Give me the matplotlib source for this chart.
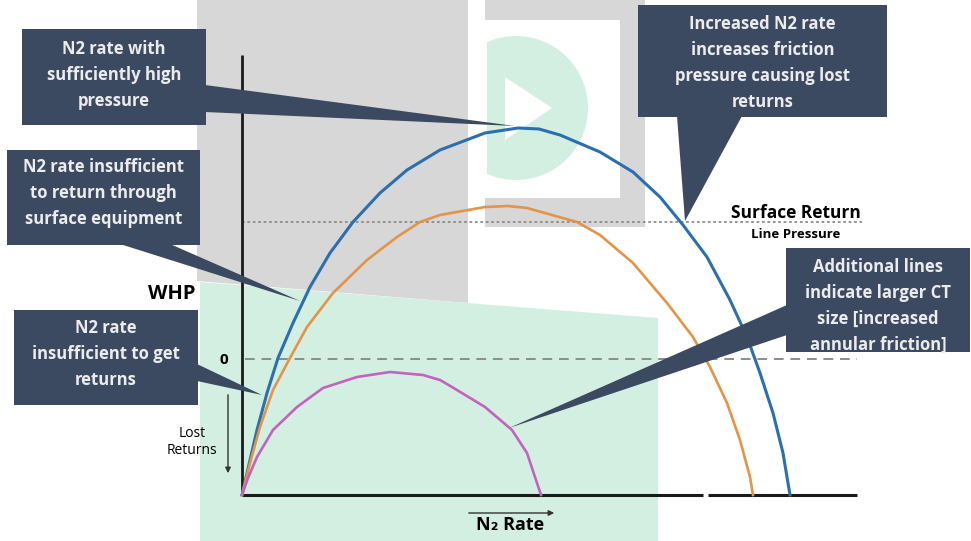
import matplotlib.pyplot as plt
from matplotlib.patches import Polygon, Rectangle, Circle

plt.rcParams["font.family"] = ["Open Sans", "DejaVu Sans"]

# curves: N2 rate vs WHP (same units, origin at axis corner)
blue_rate = [0, 8, 15, 25, 36, 51, 68, 88, 111, 138, 165, 198, 243, 276, 297, 318, 358, 391, 418, 441, 465, 488, 505, 518, 531, 541, 548]
blue_whp = [0, 35, 65, 102, 137, 172, 208, 242, 273, 302, 325, 345, 362, 367, 366, 360, 343, 323, 298, 270, 238, 195, 158, 122, 82, 42, 0]
orange_rate = [0, 8, 18, 31, 48, 65, 91, 125, 155, 178, 198, 243, 266, 285, 335, 358, 391, 425, 451, 468, 485, 498, 508, 511]
orange_whp = [0, 32, 68, 105, 137, 168, 202, 235, 258, 273, 280, 288, 289, 287, 273, 260, 232, 192, 158, 128, 92, 55, 18, 0]
magenta_rate = [0, 6, 15, 31, 55, 81, 115, 148, 181, 198, 210, 243, 270, 285, 299]
magenta_whp = [0, 17, 38, 65, 88, 107, 118, 123, 120, 115, 108, 88, 65, 42, 0]

zero_whp = 136
surface_whp = 273
axis_top = 440
axis_end = 615

callouts = [
    "N2 rate with\nsufficiently high\npressure",
    "N2 rate insufficient\nto return through\nsurface equipment",
    "N2 rate\ninsufficient to get\nreturns",
    "Increased N2 rate\nincreases friction\npressure causing lost\nreturns",
    "Additional lines\nindicate larger CT\nsize [increased\nannular friction]",
]

# origin of the chart in picture pixels
X0, Y0 = 242, 495


def p(x, y):
    # picture pixel -> chart units
    return (x - X0, Y0 - y)


fig = plt.figure(figsize=(9.71, 5.41), dpi=100)
ax = fig.add_axes([0, 0, 1, 1])
ax.set_xlim(-X0, 971 - X0)
ax.set_ylim(Y0 - 541, Y0)
ax.axis("off")

# background panels (watermark colours)
ax.add_patch(Polygon([p(197, 0), p(468, 0), p(468, 303), p(197, 281)], closed=True,
                     facecolor="#d7d7d7", edgecolor="none", zorder=0))
ax.add_patch(Polygon([p(200, 282), p(658, 318), p(658, 541), p(200, 541)], closed=True,
                     facecolor="#d3efe2", edgecolor="none", zorder=0))
ax.add_patch(Rectangle(p(485, 227), 160, 227, facecolor="#d7d7d7", edgecolor="none", zorder=0))
ax.add_patch(Rectangle(p(485, 198), 135, 178, facecolor="white", edgecolor="none", zorder=0.1))
circ = Circle(p(516, 108), 72, facecolor="#d3efe2", edgecolor="none", zorder=0.2)
ax.add_patch(circ)
clip = Rectangle(p(487, 198), 133, 178, transform=ax.transData)
circ.set_clip_path(clip)
ax.add_patch(Polygon([p(505, 77), p(552, 108), p(505, 140)], closed=True,
                     facecolor="white", edgecolor="none", zorder=0.3))

# reference lines
ax.plot([3, axis_end], [zero_whp, zero_whp], color="#8c8c8c", lw=1.4, ls=(0, (5, 3.5)), zorder=1)
ax.plot([0, 620], [surface_whp, surface_whp], color="#8c8c8c", lw=1.3, ls=(0, (1.5, 1.5)), zorder=1)

# axes
ax.plot([0, 0], [0, axis_top], color="#1a1a1a", lw=2, zorder=2, solid_capstyle="butt")
ax.plot([0, 461], [0, 0], color="#1a1a1a", lw=2.2, zorder=2, solid_capstyle="butt")
ax.plot([466, axis_end], [0, 0], color="#1a1a1a", lw=2.2, zorder=2, solid_capstyle="butt")

# curves
ax.plot(blue_rate, blue_whp, color="#2b6fae", lw=2.2, zorder=3, solid_joinstyle="round")
ax.plot(orange_rate, orange_whp, color="#e39447", lw=1.9, zorder=3, solid_joinstyle="round")
ax.plot(magenta_rate, magenta_whp, color="#c363bd", lw=1.9, zorder=3, solid_joinstyle="round")

# callout boxes: (left, top, right, bottom), text centre y, pointer wedge in pixels
box_col = "#3c4a61"
boxes = [(22, 29, 206, 125), (7, 150, 200, 245), (14, 310, 198, 405),
         (638, 5, 887, 117), (786, 248, 970, 352)]
text_y = [75, 193, 354, 63, 306]
wedges = [[(205, 85), (205, 112), (515, 126)],
          [(120, 244), (170, 244), (300, 301)],
          [(197, 364), (197, 381), (262, 395)],
          [(677, 116), (742, 116), (685, 221)],
          [(787, 305), (787, 335), (509, 428)]]
for (l, t, r, b), ty, w, txt in zip(boxes, text_y, wedges, callouts):
    ax.add_patch(Rectangle(p(l, b), r - l, b - t, facecolor=box_col, edgecolor="none", zorder=4))
    ax.add_patch(Polygon([p(*q) for q in w], closed=True, facecolor=box_col, edgecolor="none", zorder=4))
    cx, cy = p((l + r) / 2, ty)
    ax.text(cx, cy, txt, ha="center", va="center", color="#ececec", fontsize=12,
            fontweight="bold", linespacing=1.55, zorder=5)

# axis labels
ax.text(*p(172, 294), "WHP", ha="center", va="center", fontsize=14.5, fontweight="bold", zorder=5)
ax.text(*p(224, 360), "0", ha="center", va="center", fontsize=11, fontweight="bold", zorder=5)
ax.text(*p(192, 442), "Lost\nReturns", ha="center", va="center", fontsize=10, zorder=5,
        linespacing=1.25)
ax.annotate("", xy=p(228, 476), xytext=p(228, 392),
            arrowprops=dict(arrowstyle="-|>", color="#333333", lw=1, mutation_scale=8), zorder=5)
ax.annotate("", xy=p(557, 513), xytext=p(466, 513),
            arrowprops=dict(arrowstyle="-|>", color="#333333", lw=1, mutation_scale=8), zorder=5)
ax.text(*p(510, 525), "N₂ Rate", ha="center", va="center", fontsize=13, fontweight="bold", zorder=5)
ax.text(*p(796, 213), "Surface Return", ha="center", va="center", fontsize=12.5,
        fontweight="bold", zorder=5)
ax.text(*p(796, 235), "Line Pressure", ha="center", va="center", fontsize=9.5,
        fontweight="bold", zorder=5)

plt.savefig("out.png", dpi=100)
